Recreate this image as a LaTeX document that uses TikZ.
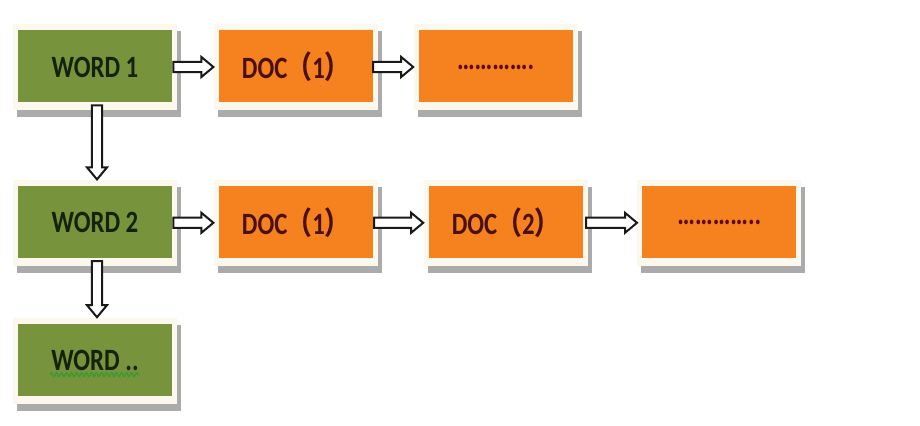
\documentclass[tikz,border=0pt]{standalone}
\usepackage{fontspec}
\setmainfont{Carlito}
\newfontfamily\boxfont[FakeStretch=0.8]{Carlito}
\newfontfamily\cjkfont[FakeStretch=0.8]{Noto Sans CJK SC}
\usepackage{tikz}
\usetikzlibrary{positioning,calc,shadows,decorations.pathmorphing}
\definecolor{wordgreen}{HTML}{77933C}
\definecolor{docorange}{HTML}{F5821F}
\definecolor{framecream}{HTML}{FDF8EE}
\definecolor{wordink}{HTML}{14220C}
\definecolor{docink}{HTML}{4A1010}
\definecolor{dotred}{HTML}{5C0808}
\definecolor{wavegreen}{HTML}{3E9A2E}

\begin{document}
\begin{tikzpicture}[x=0.5pt,y=-0.5pt,
  frame/.style={rectangle,fill=framecream,minimum width=82pt,minimum height=43pt,inner sep=0pt,
    drop shadow={shadow xshift=2pt,shadow yshift=-3.5pt,fill=black!55,opacity=.6},
    font=\boxfont\bfseries\fontsize{15.5}{18}\selectfont},
  inner/.style={path picture={\fill[#1] ([shift={(2.5pt,4pt)}]path picture bounding box.south west) rectangle ([shift={(-2.5pt,-3pt)}]path picture bounding box.north east);}},
  wordbox/.style={frame,inner=wordgreen,text=wordink},
  docbox/.style={frame,inner=docorange,text=docink},
  fatarrow/.style={draw=black!90,fill=white,line width=1pt,line join=miter,
    to path={let \p1=(\tikztostart), \p2=(\tikztotarget),
      \n1={atan2(\y2-\y1,\x2-\x1)}, \n2={veclen(\x2-\x1,\y2-\y1)} in
      ($(\p1)+(\n1+90:2.6pt)$) -- ($(\p1)+(\n1:{\n2*1pt-6pt})+(\n1+90:2.6pt)$)
      -- ($(\p1)+(\n1:{\n2*1pt-6pt})+(\n1+90:5pt)$) -- (\p2)
      -- ($(\p1)+(\n1:{\n2*1pt-6pt})+(\n1-90:5pt)$)
      -- ($(\p1)+(\n1:{\n2*1pt-6pt})+(\n1-90:2.6pt)$)
      -- ($(\p1)+(\n1-90:2.6pt)$) -- cycle}},
  squiggle/.style={draw=wavegreen,line width=0.7pt,decorate,decoration={snake,amplitude=1pt,segment length=2.5pt}}
]
\fill[white] (0,0) rectangle (920,426);
% first row
\node[wordbox] (w1) at (95,67) {WORD 1};
\node[docbox,right=18pt of w1] (d11) {DOC{\cjkfont （}1{\cjkfont ）}};
\node[docbox,right=17.5pt of d11] (e1) {\textcolor{dotred}{………….}};
% second row
\node[wordbox,below=34.5pt of w1] (w2) {WORD 2};
\node[docbox,right=18pt of w2] (d21) {DOC{\cjkfont （}1{\cjkfont ）}};
\node[docbox,right=22.5pt of d21] (d22) {DOC{\cjkfont （}2{\cjkfont ）}};
\node[docbox,right=24.5pt of d22] (e2) {\textcolor{dotred}{…………..}};
% third row
\node[wordbox,below=25.5pt of w2] (w3) {WORD ..};
\draw[squiggle] ([shift={(-22.5pt,-7pt)}]w3.center) -- ([shift={(22pt,-7pt)}]w3.center);

\draw[fatarrow] ([xshift=-2pt]w1.east) to (d11.west);
\draw[fatarrow] ([xshift=-2.5pt]d11.east) to (e1.west);
\draw[fatarrow] ([xshift=1pt,yshift=2.5pt]w1.south) to ([xshift=1pt]w2.north);
\draw[fatarrow] ([xshift=-2pt]w2.east) to (d21.west);
\draw[fatarrow] ([xshift=-2pt]d21.east) to (d22.west);
\draw[fatarrow] ([xshift=-1pt]d22.east) to (e2.west);
\draw[fatarrow] ([xshift=1pt,yshift=2.5pt]w2.south) to ([xshift=1pt]w3.north);
\end{tikzpicture}
\end{document}
